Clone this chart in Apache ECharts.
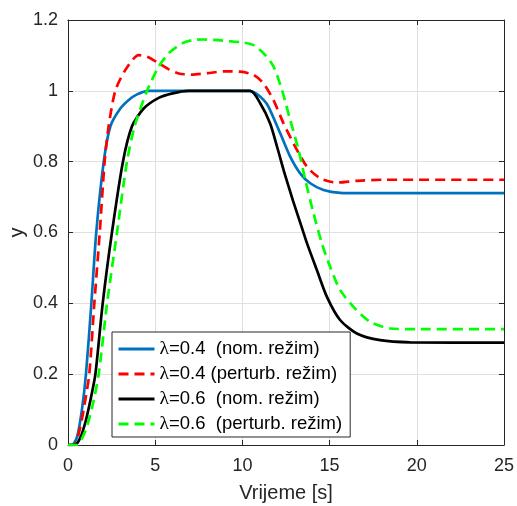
<!DOCTYPE html>
<html>
<head>
<meta charset="utf-8">
<script src="https://cdn.jsdelivr.net/npm/echarts@6/dist/echarts.min.js"></script>
<style>
html,body{margin:0;padding:0;background:#fff;}
#c{width:517px;height:506px;}
</style>
</head>
<body>
<div id="c"></div>
<script>
// λ=0.4 nominal
const tBlue = [0, 0.23, 0.52, 0.8, 1.03, 1.34, 1.62, 2.05, 2.43, 3.0, 3.5, 3.96, 4.6, 10.4, 10.8, 11.2, 11.5, 12.17, 12.74, 13.31, 13.89, 14.65, 15.6, 17, 25];
const yBlue = [0, 0, 0.023, 0.1, 0.2, 0.4, 0.6, 0.8, 0.9, 0.95, 0.975, 0.99, 1.0, 1.0, 0.992, 0.975, 0.955, 0.88, 0.814, 0.767, 0.739, 0.72, 0.712, 0.711, 0.711];
// λ=0.4 perturbed
const tRed = [0, 0.35, 0.7, 1.0, 1.22, 1.51, 1.82, 2.1, 2.33, 2.71, 3.29, 4.05, 4.6, 5.2, 5.8, 6.35, 7.1, 8.0, 9.0, 9.88, 10.64, 11.21, 11.78, 12.36, 13.03, 13.7, 14.46, 15.42, 16.56, 18.09, 25];
const yRed = [0, 0, 0.05, 0.13, 0.2, 0.4, 0.6, 0.8, 0.9, 1.0, 1.059, 1.101, 1.095, 1.078, 1.06, 1.049, 1.046, 1.05, 1.055, 1.054, 1.045, 1.021, 0.974, 0.908, 0.842, 0.786, 0.753, 0.741, 0.746, 0.749, 0.749];
// λ=0.6 nominal
const tBlack = [0, 0.4, 0.7, 1.0, 1.3, 1.57, 1.99, 2.52, 3.15, 3.67, 4.34, 5.2, 6.0, 6.9, 10.45, 11.02, 11.59, 12.0, 12.4, 12.9, 13.4, 13.7, 14.27, 14.84, 15.6, 16.56, 17.9, 19.62, 25];
const yBlack = [0, 0, 0.02, 0.065, 0.13, 0.2, 0.4, 0.6, 0.8, 0.9, 0.95, 0.98, 0.993, 1.0, 1.0, 0.965, 0.908, 0.84, 0.77, 0.69, 0.615, 0.57, 0.494, 0.419, 0.353, 0.315, 0.296, 0.29, 0.289];
// λ=0.6 perturbed
const tGreen = [0, 0.5, 1.0, 1.4, 1.76, 2.24, 2.81, 3.38, 3.82, 4.53, 5.2, 5.77, 6.54, 7.11, 7.75, 8.6, 9.47, 10.0, 10.64, 11.31, 11.79, 12.27, 12.74, 13.22, 13.6, 14.08, 14.56, 15.03, 15.6, 16.37, 17.32, 18.47, 20, 25];
const yGreen = [0, 0, 0.04, 0.11, 0.2, 0.4, 0.6, 0.8, 0.9, 1.0, 1.068, 1.106, 1.134, 1.143, 1.145, 1.143, 1.139, 1.137, 1.129, 1.101, 1.068, 1.002, 0.918, 0.833, 0.75, 0.654, 0.569, 0.503, 0.438, 0.39, 0.348, 0.329, 0.327, 0.327];

const names = ['λ=0.4  (nom. režim)', 'λ=0.4 (perturb. režim)', 'λ=0.6  (nom. režim)', 'λ=0.6  (perturb. režim)'];
const xTicks = {min: 0, max: 25, interval: 5};
const yTicks = {min: 0, max: 1.2, interval: 0.2};

function zip(t, y) { return t.map((v, i) => [v, y[i]]); }

const axisColor = '#262626';
const gridColor = '#e0e0e0';
const font = 'Liberation Sans, Arial, sans-serif';

const chart = echarts.init(document.getElementById('c'), null, {renderer: 'canvas'});
function mkSeries(name, data, color, dashed) {
  return {
    name: name, type: 'line', data: data, symbol: 'none', showSymbol: false, smooth: 0.25,
    lineStyle: {color: color, width: 2.7, type: dashed ? [10, 6] : 'solid'},
    itemStyle: {color: color}, z: 3
  };
}
chart.setOption({
  backgroundColor: '#fff',
  animation: false,
  grid: {left: 68, right: 13, top: 20, bottom: 61, containLabel: false, outerBoundsMode: 'none'},
  xAxis: [
    {type: 'value', min: xTicks.min, max: xTicks.max, interval: xTicks.interval, position: 'bottom',
     name: 'Vrijeme [s]', nameLocation: 'middle', nameGap: 38, nameMoveOverlap: false,
     nameTextStyle: {fontFamily: font, fontSize: 20, color: axisColor},
     axisLine: {show: true, onZero: false, lineStyle: {color: axisColor, width: 1}},
     axisTick: {show: true, inside: true, length: 5, lineStyle: {color: axisColor}},
     axisLabel: {fontFamily: font, fontSize: 18, color: axisColor, margin: 12},
     splitLine: {show: true, lineStyle: {color: gridColor, width: 1}}},
    {type: 'value', min: xTicks.min, max: xTicks.max, interval: xTicks.interval, position: 'top',
     axisLine: {show: true, onZero: false, lineStyle: {color: axisColor, width: 1}},
     axisTick: {show: true, inside: true, length: 5, lineStyle: {color: axisColor}},
     axisLabel: {show: false}, splitLine: {show: false}}
  ],
  yAxis: [
    {type: 'value', min: yTicks.min, max: yTicks.max, interval: yTicks.interval, position: 'left',
     name: 'y', nameLocation: 'middle', nameGap: 41, nameMoveOverlap: false,
     nameTextStyle: {fontFamily: font, fontSize: 20, color: axisColor},
     axisLine: {show: true, onZero: false, lineStyle: {color: axisColor, width: 1}},
     axisTick: {show: true, inside: true, length: 5, lineStyle: {color: axisColor}},
     axisLabel: {fontFamily: font, fontSize: 18, color: axisColor, margin: 10,
                 formatter: v => String(+v.toFixed(1))},
     splitLine: {show: true, lineStyle: {color: gridColor, width: 1}}},
    {type: 'value', min: yTicks.min, max: yTicks.max, interval: yTicks.interval, position: 'right',
     axisLine: {show: true, onZero: false, lineStyle: {color: axisColor, width: 1}},
     axisTick: {show: true, inside: true, length: 5, lineStyle: {color: axisColor}},
     axisLabel: {show: false}, splitLine: {show: false}}
  ],
  legend: {
    orient: 'vertical', left: 112, top: 332,
    backgroundColor: '#fff', borderColor: '#262626', borderWidth: 1, borderRadius: 0,
    padding: [7, 8, 3, 5], itemGap: 5, itemWidth: 36, itemHeight: 14,
    itemStyle: {opacity: 0}, lineStyle: {opacity: 1, width: 3},
    data: names,
    formatter: n => n.replace('λ', '{l|λ}'),
    textStyle: {fontFamily: font, fontSize: 18.5, color: '#000', lineHeight: 20,
                rich: {l: {fontFamily: 'Liberation Serif, serif', fontSize: 19.5, color: '#000'}}}
  },
  series: [
    mkSeries(names[0], zip(tBlue, yBlue), '#0072BD', false),
    mkSeries(names[1], zip(tRed, yRed), '#FF0000', true),
    mkSeries(names[2], zip(tBlack, yBlack), '#000000', false),
    mkSeries(names[3], zip(tGreen, yGreen), '#00FF00', true)
  ]
});
</script>
</body>
</html>
